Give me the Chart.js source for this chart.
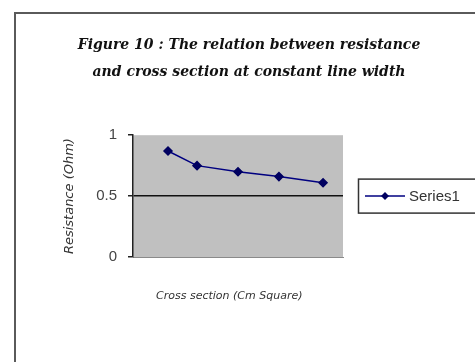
<!DOCTYPE html>
<html>
<head>
<meta charset="utf-8">
<script src="https://cdn.jsdelivr.net/npm/chart.js@4"></script>
<style>
  html, body { margin: 0; padding: 0; background: #fff; }
  #wrap { width: 475px; height: 362px; }
</style>
</head>
<body>
<div id="wrap"><canvas id="chart" width="475" height="362"></canvas></div>
<script>
const titleLines = ["Figure 10 : The relation between resistance", "and cross section at constant line width"];
const crossSection = [1.0, 1.83, 3.0, 4.17, 5.43];
const resistance = [0.87, 0.75, 0.70, 0.66, 0.61];
const yTicks = [0, 0.5, 1];
const seriesName = "Series1";

// grey plot area, outer frame and the boxed legend on the right
const decor = {
  id: "decor",
  beforeDraw(chart) {
    const ctx = chart.ctx;
    const a = chart.chartArea;
    ctx.save();
    ctx.fillStyle = "#c0c0c0";
    ctx.fillRect(a.left, a.top, a.right - a.left, a.bottom - a.top);
    ctx.strokeStyle = "#5a5a5a";
    ctx.lineWidth = 2;
    ctx.beginPath();
    ctx.moveTo(15, 362);
    ctx.lineTo(15, 13);
    ctx.lineTo(480, 13);
    ctx.stroke();
    ctx.restore();
  },
  afterDraw(chart) {
    const ctx = chart.ctx;
    const ds = chart.data.datasets[0];
    const cy = (chart.chartArea.top + chart.chartArea.bottom) / 2;
    ctx.save();
    ctx.strokeStyle = "#333";
    ctx.lineWidth = 1.5;
    ctx.strokeRect(358.5, cy - 17, 130, 34);
    ctx.strokeStyle = ds.borderColor;
    ctx.lineWidth = 1.5;
    ctx.beginPath();
    ctx.moveTo(365, cy);
    ctx.lineTo(405, cy);
    ctx.stroke();
    ctx.fillStyle = ds.pointBackgroundColor;
    ctx.beginPath();
    ctx.moveTo(385, cy - 4);
    ctx.lineTo(389, cy);
    ctx.lineTo(385, cy + 4);
    ctx.lineTo(381, cy);
    ctx.closePath();
    ctx.fill();
    ctx.fillStyle = "#333";
    ctx.font = "15px 'Liberation Sans', Arial, sans-serif";
    ctx.textBaseline = "middle";
    ctx.fillText(ds.label, 409, cy + 1);
    ctx.restore();
  }
};

new Chart(document.getElementById("chart"), {
  type: "line",
  data: {
    datasets: [{
      label: seriesName,
      data: crossSection.map((x, i) => ({ x, y: resistance[i] })),
      borderColor: "#000080",
      borderWidth: 1.5,
      pointStyle: "rectRot",
      pointRadius: 4,
      pointBackgroundColor: "#000060",
      pointBorderColor: "#000060",
      tension: 0
    }]
  },
  options: {
    responsive: false,
    animation: false,
    layout: { padding: { left: 58, right: 35, top: 20, bottom: 55 } },
    plugins: {
      legend: { display: false },
      tooltip: { enabled: false },
      title: {
        display: true,
        text: titleLines,
        color: "#111",
        font: { family: "'DejaVu Serif', serif", size: 14, weight: "bold", style: "italic", lineHeight: 1.9 },
        padding: { top: 12, bottom: 50 }
      }
    },
    scales: {
      x: {
        type: "linear",
        min: 0,
        max: 6,
        grid: { display: false },
        border: { display: true, color: "#8a8a8a" },
        ticks: { display: false },
        title: {
          display: true,
          text: "Cross section (Cm Square)\u00a0\u00a0\u00a0\u00a0\u00a0",
          color: "#333",
          font: { family: "'DejaVu Sans', sans-serif", size: 11, style: "italic" }
        },
        afterFit: s => { s.height = 50; }
      },
      y: {
        min: 0,
        max: 1,
        afterBuildTicks: s => { s.ticks = yTicks.map(v => ({ value: v })); },
        grid: {
          color: c => (c.tick && c.tick.value === 0.5 ? "#111" : "rgba(0,0,0,0)"),
          lineWidth: 1.5,
          tickColor: "#222",
          tickLength: 5,
          drawTicks: true
        },
        border: { display: true, color: "#222", width: 1.5 },
        ticks: {
          color: "#444",
          padding: 11,
          font: { family: "'Liberation Sans', Arial, sans-serif", size: 15 },
          callback: v => String(v)
        },
        title: {
          display: true,
          text: "Resistance (Ohm)",
          color: "#333",
          font: { family: "'DejaVu Sans', sans-serif", size: 13, style: "italic" }
        },
        afterFit: s => { s.width = 75; }
      },
      side: {
        position: "right",
        display: true,
        grid: { display: false },
        border: { display: false },
        ticks: { display: false },
        afterFit: s => { s.width = 97; }
      }
    }
  },
  plugins: [decor]
});
</script>
</body>
</html>
